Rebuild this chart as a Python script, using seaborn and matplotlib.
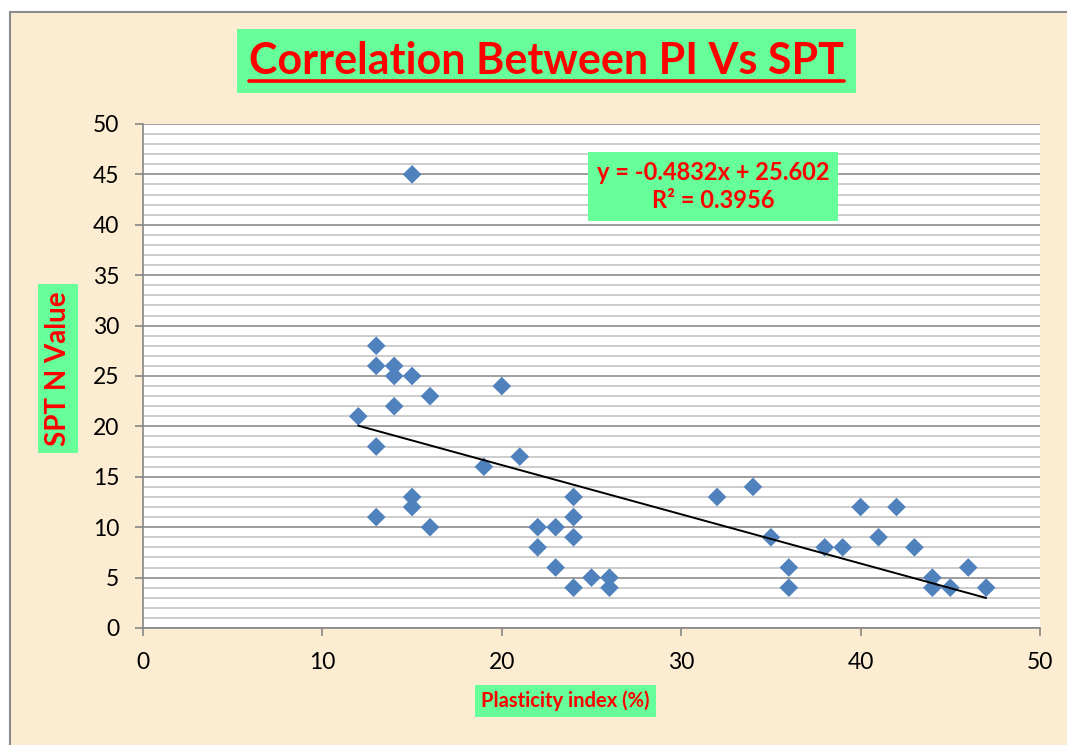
import matplotlib.pyplot as plt
import seaborn as sns
from matplotlib.lines import Line2D
from matplotlib.patches import Rectangle
from matplotlib.ticker import MultipleLocator

# Plasticity index (%) vs SPT N value
pi_values = [15, 12, 13, 13, 14, 14, 15, 14, 16, 13, 20, 19, 21, 13, 15,
             15, 16, 22, 22, 23, 23, 24, 24, 24, 24, 25, 26, 26, 32, 34,
             35, 36, 36, 38, 39, 40, 41, 42, 43, 44, 44, 45, 46, 47]
spt_values = [45, 21, 28, 26, 26, 25, 25, 22, 23, 18, 24, 16, 17, 11, 13,
              12, 10, 10, 8, 10, 6, 13, 11, 9, 4, 5, 5, 4, 13, 14,
              9, 6, 4, 8, 8, 12, 9, 12, 8, 5, 4, 4, 6, 4]

x_ticks = [0, 10, 20, 30, 40, 50]
y_ticks = [0, 5, 10, 15, 20, 25, 30, 35, 40, 45, 50]

title_text = "Correlation Between PI Vs SPT"
equation_text = "y = -0.4832x + 25.602\nR\u00b2 = 0.3956"
x_label = "Plasticity index (%)"
y_label = "SPT N Value"

sns.set_theme(style="white")
plt.rcParams["font.family"] = ["Lato", "DejaVu Sans"]

RED = "#FF0000"
GREEN = "#66FF99"
W, H = 1067, 745

fig = plt.figure(figsize=(W / 100, H / 100), dpi=100, facecolor="white")

# parchment chart area with grey frame
fig.add_artist(Rectangle((10 / W, -0.05), 1.1, 1 - 12 / H + 0.05,
                         transform=fig.transFigure, facecolor="#FCEDD2",
                         edgecolor="#8a8a8a", lw=1.5, zorder=0))

ax = fig.add_axes([143 / W, 117 / H, 897 / W, 504 / H])
ax.set_facecolor("white")

sns.regplot(x=pi_values, y=spt_values, ci=None, marker="D", ax=ax,
            scatter_kws=dict(s=90, color="#4F81BD", edgecolor="none",
                             alpha=1, zorder=3),
            line_kws=dict(color="black", lw=1.4, zorder=4))

ax.set_xlim(0, 50)
ax.set_ylim(0, 50)
ax.set_xticks(x_ticks)
ax.set_yticks(y_ticks)
ax.yaxis.set_minor_locator(MultipleLocator(1))
ax.grid(which="major", axis="y", color="#8c8c8c", lw=1.2)
ax.grid(which="minor", axis="y", color="#c4c4c4", lw=1.2)
ax.grid(which="major", axis="x", visible=False)
ax.set_axisbelow(True)
ax.tick_params(which="minor", left=False, bottom=False, length=0)
ax.tick_params(which="major", direction="out", length=6, width=1.2,
               color="#868686", labelsize=16.5, pad=11, left=True,
               bottom=True, labelcolor="black")
for side in ["top", "right"]:
    ax.spines[side].set_visible(False)
for side in ["left", "bottom"]:
    ax.spines[side].set_color("#868686")
    ax.spines[side].set_linewidth(1.2)
ax.set_xlabel("")
ax.set_ylabel("")

fig.text(565.5 / W, 1 - 701 / H, x_label, ha="center", va="center",
         color=RED, fontweight="bold", fontsize=14.5,
         bbox=dict(boxstyle="square,pad=0.3", fc=GREEN, ec="none"))
fig.text(58 / W, 1 - 368.5 / H, y_label, ha="center", va="center",
         rotation=90, color=RED, fontweight="bold", fontsize=20,
         bbox=dict(boxstyle="square,pad=0.25", fc=GREEN, ec="none"))
fig.text(713 / W, 1 - 186.5 / H, equation_text, ha="center", va="center",
         multialignment="center", color=RED, fontweight="bold",
         fontsize=17, linespacing=1.3,
         bbox=dict(boxstyle="square,pad=0.35", fc=GREEN, ec="none"))

base_y = 1 - 74 / H
title = fig.text(0.512, base_y, title_text, ha="center", va="baseline",
                 color=RED, fontweight="bold", fontsize=31,
                 bbox=dict(boxstyle="square,pad=0.28", fc=GREEN, ec="none"))

# underline the title
fig.canvas.draw()
bb = title.get_window_extent()
uy = base_y - 7 / H
fig.add_artist(Line2D([bb.x0 / W, bb.x1 / W], [uy, uy],
                      transform=fig.transFigure, color=RED, lw=2.6,
                      zorder=10))

fig.savefig("out.png", dpi=100)
